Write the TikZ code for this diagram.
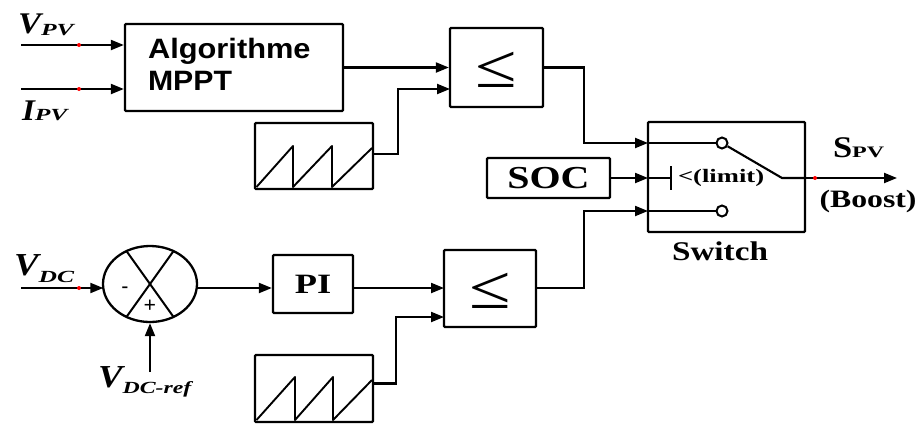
\documentclass[tikz,border=0pt]{standalone}
\usepackage{fontspec}
\usepackage{graphicx}
\setmainfont{Liberation Serif}
\newfontfamily\arialf{Liberation Sans}
\usetikzlibrary{arrows.meta,shapes.geometric,calc}
\newcommand\hs[2]{\scalebox{#1}[1]{#2}}
\newcommand\fs[1]{\fontsize{#1}{#1}\selectfont}
\begin{document}
\begin{tikzpicture}[x=1pt,y=-1pt, line width=2.1pt,
  blk/.style={draw, line width=2.3pt, rounded corners=1pt, inner sep=0},
  arr/.style={-{Triangle[length=13pt,width=10pt]}},
  lbl/.style={inner sep=0, anchor=base west, font=\bfseries\itshape},
  txt/.style={inner sep=0, font=\bfseries},
  contact/.style={circle, draw, fill=white, minimum size=11pt, inner sep=0, line width=2pt},
  saw/.style={line width=1.9pt, line join=round},
  reddot/.style={fill=red, draw=none}
]
\useasboundingbox (0,0) rectangle (923,426);

% blocks
\node[blk, minimum width=218pt, minimum height=87pt] (mppt) at (234,67.5) {};
\node[blk, minimum width=93pt, minimum height=79pt] (le1) at (496.5,67.5) {};
\node[blk, minimum width=118pt, minimum height=66pt] (saw1) at (314,156) {};
\node[blk, minimum width=123pt, minimum height=40pt] (soc) at (548.5,178) {};
\node[blk, minimum width=157pt, minimum height=110pt] (sw) at (726.5,177) {};
\node[draw, ellipse, line width=2.3pt, minimum width=94pt, minimum height=76pt, inner sep=0] (sum) at (150,284) {};
\node[blk, minimum width=80pt, minimum height=58pt] (pi) at (313,284) {};
\node[blk, minimum width=92pt, minimum height=77pt] (le2) at (490,288.5) {};
\node[blk, minimum width=118pt, minimum height=67pt] (saw2) at (314,388.5) {};

% texts in blocks
\node[txt, anchor=base west, font=\arialf\bfseries] (t1) at (147,58) {\fs{28}\hs{1.1}{Algorithme}};
\node[txt, anchor=base west, font=\arialf\bfseries] (t2) at (147,90) {\fs{28}\hs{1.08}{MPPT}};
\node[inner sep=0] (le1t) at ($(le1)+(0,2)$) {\fs{56}\scalebox{1.35}[1.1]{≤}};
\node[inner sep=0] (le2t) at ($(le2)+(0,2)$) {\fs{56}\scalebox{1.35}[1.1]{≤}};
\node[txt] (soct) at (soc) {\fs{32}\hs{1.25}{SOC}};
\node[txt] (pit) at (pi) {\fs{28}\hs{1.3}{PI}};
\node[txt, anchor=base] (swt) at (720,260) {\fs{27}\hs{1.23}{Switch}};
\node[txt] (minus) at (125,290) {\fs{20}-};
\node[txt] (plus) at (150,306) {\fs{22}+};

% signal labels
\node[lbl] (vpv) at (17,33) {\fs{30}\hs{1.15}{V}\raisebox{-2pt}{\fs{17}\hs{1.5}{PV}}};
\node[lbl] (ipv) at (21,120) {\fs{30}\hs{1.1}{I}\fs{17}\hs{1.5}{PV}};
\node[lbl] (vdc) at (13,275) {\fs{32}\hs{1.15}{V}\raisebox{-7pt}{\fs{17}\hs{1.5}{DC}}};
\node[lbl] (vdcref) at (97,387) {\fs{32}\hs{1.15}{V}\raisebox{-6pt}{\fs{17}\hs{1.4}{DC-ref}}};
\node[txt, anchor=base west] (spv) at (832,157) {\fs{30}\hs{1.15}{S}\fs{16}\hs{1.5}{PV}};
\node[txt, anchor=base] (boost) at (868,207) {\fs{25}\hs{1.27}{(Boost)}};

% coordinates
\coordinate (vpvs) at (21,45);
\coordinate (ipvs) at (21,89);
\coordinate (vdcs) at (21,288);
\coordinate (sumw) at (103.3,288);
\coordinate (sume) at (196.7,288);
\coordinate (vref) at (150,372);
\coordinate (le1in2) at (450,89);
\coordinate (le2in1) at (444,288);
\coordinate (le2in2) at (444,317);
\coordinate (jx) at (584,0);
\coordinate (swin1) at (648,143);
\coordinate (swin2) at (648,178);
\coordinate (swin3) at (648,211);
\coordinate (tick) at (671,178);
\coordinate (lev) at (782,178);
\coordinate (out) at (897,178);
\node[contact] (c1) at (722,143) {};
\node[contact] (c2) at (722,211) {};

% connectors
\draw[arr] (vpvs) -- (mppt.west |- vpvs);
\draw[arr] (ipvs) -- (mppt.west |- ipvs);
\draw[arr] (mppt.east) -- (le1.west);
\draw[arr] ($(saw1.east)+(0,-2)$) -- ++(24,0) |- (le1in2);
\draw[arr] (le1.east) -| (jx |- swin1) -- (swin1);
\draw (swin1) -- (c1);
\draw[arr] (soc.east) -- (swin2);
\draw (swin2) -- (tick);
\draw ($(tick)+(0,-12)$) -- ($(tick)+(0,12)$);
\node[txt, anchor=west] (limit) at (677,178) {\fs{19}\hs{1.4}{<(limit)}};
\draw[arr] (le2.east |- le2in1) -| (jx |- swin3) -- (swin3);
\draw (swin3) -- (c2);
\draw (c1) -- (lev) -- (sw.east |- lev);
\draw[arr] (sw.east |- lev) -- (out);

\draw[arr] (vdcs) -- (sumw);
\draw[arr] (sume) -- (sume -| pi.west);
\draw[arr] (pi.east |- le2in1) -- (le2in1);
\draw[arr] (vref) -- (sum.south);
\draw[arr] ($(saw2.east)+(0,-5)$) -- ++(22,0) |- (le2in2);

% summing junction cross
\draw[line width=2pt] (126.5,251.1) -- (173.5,316.9);
\draw[line width=2pt] (173.5,251.1) -- (126.5,316.9);

% sawtooth waves
\draw[saw] (256.5,187) -- (293,146) -- (293,187) -- (332,146) -- (332,187) -- (372,148);
\draw[saw] (256.5,420) -- (295,377) -- (295,420) -- (333,377) -- (333,420) -- (372,380);

% red marks
\fill[reddot] (79,45) circle (2pt);
\fill[reddot] (79,89) circle (2pt);
\fill[reddot] (79,288) circle (2pt);
\fill[reddot] (815,178) circle (2pt);
\end{tikzpicture}
\end{document}
